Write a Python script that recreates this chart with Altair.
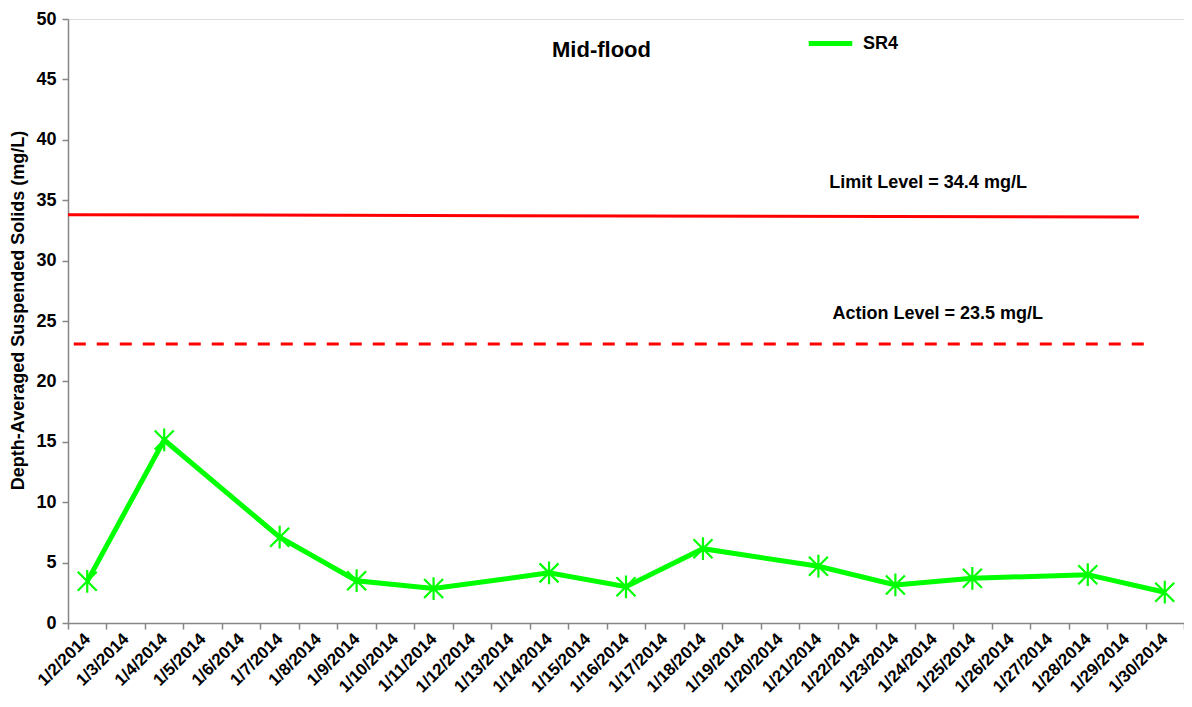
import altair as alt
import pandas as pd

# ---- data ----
all_dates = ["1/2/2014", "1/3/2014", "1/4/2014", "1/5/2014", "1/6/2014", "1/7/2014",
             "1/8/2014", "1/9/2014", "1/10/2014", "1/11/2014", "1/12/2014", "1/13/2014",
             "1/14/2014", "1/15/2014", "1/16/2014", "1/17/2014", "1/18/2014", "1/19/2014",
             "1/20/2014", "1/21/2014", "1/22/2014", "1/23/2014", "1/24/2014", "1/25/2014",
             "1/26/2014", "1/27/2014", "1/28/2014", "1/29/2014", "1/30/2014"]
obs_dates = ["1/2/2014", "1/4/2014", "1/7/2014", "1/9/2014", "1/11/2014", "1/14/2014",
             "1/16/2014", "1/18/2014", "1/21/2014", "1/23/2014", "1/25/2014", "1/28/2014",
             "1/30/2014"]
sr4_values = [3.45, 15.15, 7.1, 3.5, 2.85, 4.15, 3.0, 6.15, 4.7, 3.15, 3.7, 4.0, 2.55]
series_name = "SR4"

limit_drawn = [33.8, 33.6]      # line as drawn (start, end)
action_drawn = [23.1, 23.1]
limit_label = "Limit Level = 34.4 mg/L"
action_label = "Action Level = 23.5 mg/L"
y_ticks = [0, 5, 10, 15, 20, 25, 30, 35, 40, 45, 50]

FONT = "Liberation Sans"
GREEN = "#00FF00"
RED = "#FF0000"
AXIS_GREY = "#868686"

df = pd.DataFrame({
    "date": obs_dates,
    "value": sr4_values,
    "order": list(range(len(obs_dates))),
    "series": [series_name] * len(obs_dates),
})
limit_df = pd.DataFrame({"start": [all_dates[0]], "end": ["1/29/2014"],
                         "y0": [limit_drawn[0]], "y1": [limit_drawn[1]]})
action_df = pd.DataFrame({"start": [all_dates[0]], "end": ["1/30/2014"],
                          "y0": [action_drawn[0]], "y1": [action_drawn[1]]})
limit_txt = pd.DataFrame({"xcat": ["1/24/2014"], "yval": [36.4], "label": [limit_label]})
action_txt = pd.DataFrame({"xcat": ["1/24/2014"], "yval": [25.6], "label": [action_label]})

x_scale = alt.Scale(domain=all_dates, paddingInner=0, paddingOuter=0)
y_scale = alt.Scale(domain=[0, 50], nice=False)

x_axis = alt.Axis(
    title=None, labelAngle=-45, labelAlign="right", labelBaseline="middle",
    labelFont=FONT, labelFontSize=17, labelFontWeight="bold", labelColor="black",
    labelPadding=7, labelOverlap=False, tickBand="extent", tickSize=6,
    tickColor=AXIS_GREY, domainColor=AXIS_GREY, domainWidth=1.5, tickWidth=1.5,
    grid=False,
)
y_axis = alt.Axis(
    title="Depth-Averaged Suspended Solids (mg/L)", values=y_ticks,
    labelFont=FONT, labelFontSize=18, labelFontWeight="bold", labelColor="black",
    labelPadding=6, tickSize=6, tickColor=AXIS_GREY, domainColor=AXIS_GREY,
    domainWidth=1.5, tickWidth=1.5, grid=False,
    titleFont=FONT, titleFontSize=18, titleFontWeight="bold", titleColor="black",
    titleX=-41, titleY=291, titleAngle=270, titleAlign="center", titleBaseline="bottom",
)

asterisk = "M-1,-1L1,1M-1,1L1,-1M0,-1.2L0,1.2"

line = alt.Chart(df).mark_line(strokeWidth=5).encode(
    x=alt.X("date:O", scale=x_scale, axis=x_axis),
    y=alt.Y("value:Q", scale=y_scale, axis=y_axis),
    order="order:Q",
    color=alt.Color("series:N", scale=alt.Scale(domain=[series_name], range=[GREEN]),
                    legend=alt.Legend(orient="none", legendX=738, legendY=0, title=None,
                                      symbolType="stroke", symbolSize=1900,
                                      symbolStrokeWidth=5, labelFont=FONT,
                                      labelFontSize=18, labelFontWeight="bold",
                                      labelColor="black", labelOffset=8)),
)
points = alt.Chart(df).mark_point(shape=asterisk, filled=False, strokeWidth=2.2,
                                  size=360, color=GREEN, opacity=1).encode(
    x=alt.X("date:O", scale=x_scale),
    y=alt.Y("value:Q", scale=y_scale),
)
limit_rule = alt.Chart(limit_df).mark_rule(color=RED, strokeWidth=3).encode(
    x=alt.X("start:O", scale=x_scale, bandPosition=0),
    x2=alt.X2("end", bandPosition=0.83),
    y=alt.Y("y0:Q", scale=y_scale),
    y2="y1",
)
action_rule = alt.Chart(action_df).mark_rule(color=RED, strokeWidth=3,
                                             strokeDash=[12, 11]).encode(
    x=alt.X("start:O", scale=x_scale, bandPosition=0.15),
    x2=alt.X2("end", bandPosition=0.05),
    y=alt.Y("y0:Q", scale=y_scale),
    y2="y1",
)
limit_text = alt.Chart(limit_txt).mark_text(font=FONT, fontSize=18, fontWeight="bold",
                                            color="black", align="center",
                                            baseline="middle").encode(
    x=alt.X("xcat:O", scale=x_scale, bandPosition=0.35),
    y=alt.Y("yval:Q", scale=y_scale),
    text="label:N",
)
action_text = alt.Chart(action_txt).mark_text(font=FONT, fontSize=18, fontWeight="bold",
                                              color="black", align="center",
                                              baseline="middle").encode(
    x=alt.X("xcat:O", scale=x_scale, bandPosition=0.6),
    y=alt.Y("yval:Q", scale=y_scale),
    text="label:N",
)

chart = alt.layer(limit_rule, action_rule, line, points, limit_text, action_text).properties(
    width=1116, height=604,
    title=alt.TitleParams("Mid-flood", font=FONT, fontSize=22, fontWeight="bold",
                          color="black", anchor="start", frame="group", dx=484,
                          dy=69, offset=0, baseline="alphabetic"),
    autosize=alt.AutoSizeParams(type="none"),
    padding={"left": 60, "top": 11, "right": 0, "bottom": 76},
).configure_view(stroke=None).configure(background="white")

chart.save("out.html", embed_options={"renderer": "svg", "actions": False})
